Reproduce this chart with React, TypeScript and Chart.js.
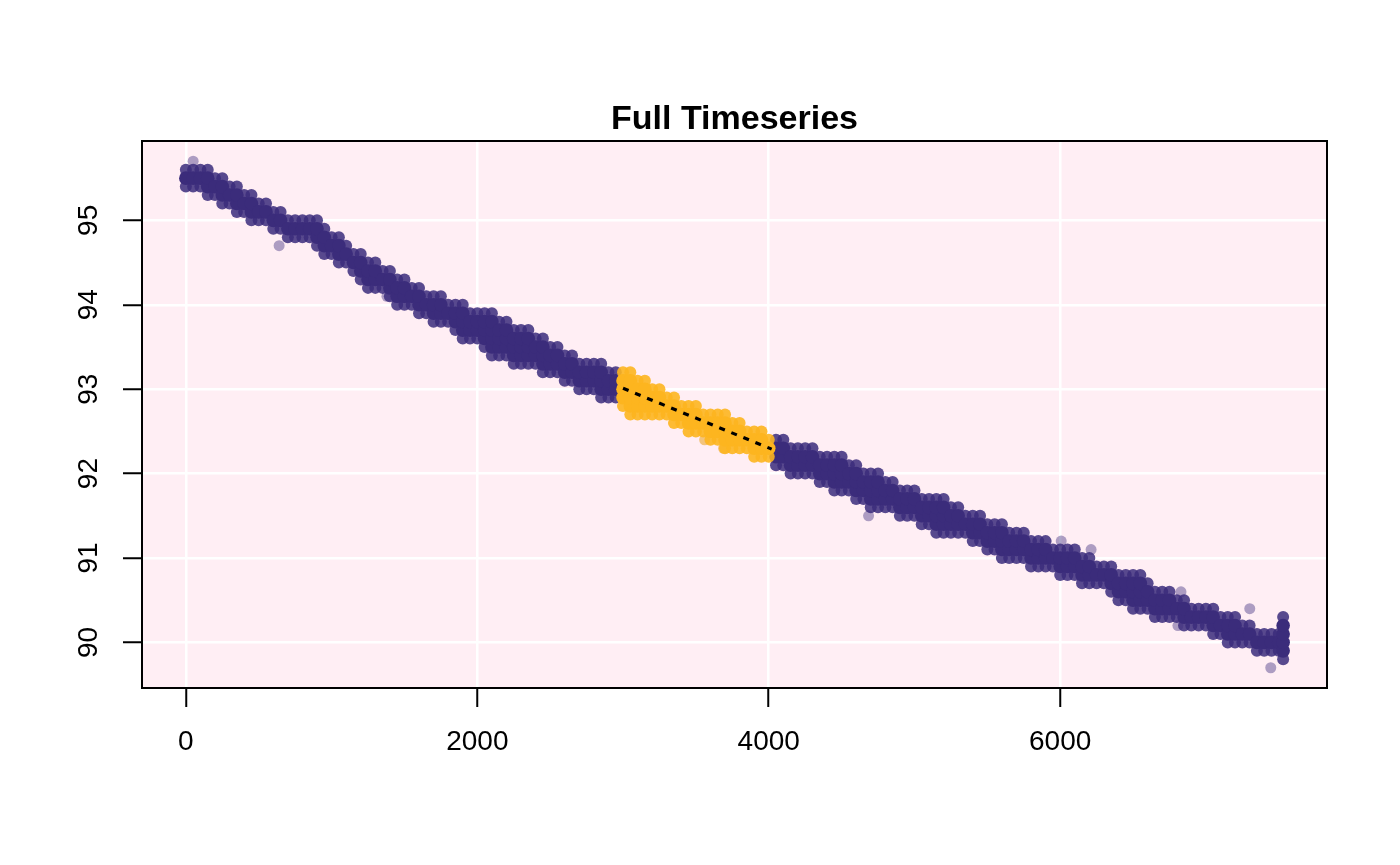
import React, { useEffect, useRef } from 'react';
import { Chart, registerables } from 'chart.js';

Chart.register(...registerables);

// sample positions along the series (time index)
const bandX = [
  0, 50, 100, 150, 200, 250, 300, 350, 400, 450,
  500, 550, 600, 650, 700, 750, 800, 850, 900, 950,
  1000, 1050, 1100, 1150, 1200, 1250, 1300, 1350, 1400, 1450,
  1500, 1550, 1600, 1650, 1700, 1750, 1800, 1850, 1900, 1950,
  2000, 2050, 2100, 2150, 2200, 2250, 2300, 2350, 2400, 2450,
  2500, 2550, 2600, 2650, 2700, 2750, 2800, 2850, 2900, 2950,
  3000, 3050, 3100, 3150, 3200, 3250, 3300, 3350, 3400, 3450,
  3500, 3550, 3600, 3650, 3700, 3750, 3800, 3850, 3900, 3950,
  4000, 4050, 4100, 4150, 4200, 4250, 4300, 4350, 4400, 4450,
  4500, 4550, 4600, 4650, 4700, 4750, 4800, 4850, 4900, 4950,
  5000, 5050, 5100, 5150, 5200, 5250, 5300, 5350, 5400, 5450,
  5500, 5550, 5600, 5650, 5700, 5750, 5800, 5850, 5900, 5950,
  6000, 6050, 6100, 6150, 6200, 6250, 6300, 6350, 6400, 6450,
  6500, 6550, 6600, 6650, 6700, 6750, 6800, 6850, 6900, 6950,
  7000, 7050, 7100, 7150, 7200, 7250, 7300, 7350, 7400, 7450,
  7500, 7530,
];

// highest reading (0.1 steps) seen around each sample position
const bandHigh = [
  95.6, 95.6, 95.6, 95.6, 95.5, 95.5, 95.4, 95.4, 95.3, 95.3,
  95.2, 95.2, 95.1, 95.1, 95.0, 95.0, 95.0, 95.0, 95.0, 94.9,
  94.8, 94.8, 94.7, 94.6, 94.6, 94.5, 94.5, 94.4, 94.4, 94.3,
  94.3, 94.2, 94.2, 94.1, 94.1, 94.1, 94.0, 94.0, 94.0, 93.9,
  93.9, 93.9, 93.9, 93.8, 93.8, 93.7, 93.7, 93.7, 93.6, 93.6,
  93.5, 93.5, 93.4, 93.4, 93.3, 93.3, 93.3, 93.3, 93.2, 93.2,
  93.2, 93.2, 93.1, 93.1, 93.0, 93.0, 92.9, 92.9, 92.8, 92.8,
  92.8, 92.7, 92.7, 92.7, 92.7, 92.6, 92.6, 92.5, 92.5, 92.5,
  92.4, 92.4, 92.4, 92.3, 92.3, 92.3, 92.3, 92.2, 92.2, 92.2,
  92.2, 92.1, 92.1, 92.0, 92.0, 92.0, 91.9, 91.9, 91.8, 91.8,
  91.8, 91.7, 91.7, 91.7, 91.7, 91.6, 91.6, 91.5, 91.5, 91.5,
  91.4, 91.4, 91.4, 91.3, 91.3, 91.3, 91.2, 91.2, 91.2, 91.1,
  91.1, 91.1, 91.1, 91.0, 91.0, 90.9, 90.9, 90.9, 90.8, 90.8,
  90.8, 90.8, 90.7, 90.6, 90.6, 90.6, 90.5, 90.5, 90.4, 90.4,
  90.4, 90.4, 90.3, 90.3, 90.3, 90.2, 90.2, 90.1, 90.1, 90.1,
  90.1, 90.3,
];

// lowest reading (0.1 steps) seen around each sample position
const bandLow = [
  95.4, 95.4, 95.4, 95.3, 95.3, 95.2, 95.2, 95.1, 95.1, 95.0,
  95.0, 95.0, 94.9, 94.9, 94.8, 94.8, 94.8, 94.8, 94.7, 94.6,
  94.6, 94.5, 94.5, 94.4, 94.3, 94.2, 94.2, 94.2, 94.1, 94.0,
  94.0, 94.0, 93.9, 93.9, 93.8, 93.8, 93.8, 93.7, 93.6, 93.6,
  93.6, 93.5, 93.4, 93.4, 93.4, 93.3, 93.3, 93.3, 93.3, 93.2,
  93.2, 93.2, 93.1, 93.1, 93.0, 93.0, 93.0, 92.9, 92.9, 92.9,
  92.8, 92.7, 92.7, 92.7, 92.7, 92.7, 92.7, 92.6, 92.6, 92.5,
  92.5, 92.5, 92.4, 92.4, 92.3, 92.3, 92.3, 92.3, 92.2, 92.2,
  92.2, 92.1, 92.1, 92.0, 92.0, 92.0, 92.0, 91.9, 91.9, 91.8,
  91.8, 91.8, 91.7, 91.7, 91.6, 91.6, 91.6, 91.6, 91.5, 91.5,
  91.5, 91.4, 91.4, 91.3, 91.3, 91.3, 91.3, 91.3, 91.2, 91.2,
  91.1, 91.1, 91.0, 91.0, 91.0, 91.0, 90.9, 90.9, 90.9, 90.9,
  90.8, 90.8, 90.8, 90.7, 90.7, 90.7, 90.7, 90.6, 90.5, 90.5,
  90.4, 90.4, 90.4, 90.3, 90.3, 90.3, 90.3, 90.2, 90.2, 90.2,
  90.2, 90.1, 90.1, 90.0, 90.0, 90.0, 90.0, 89.9, 89.9, 89.9,
  89.9, 89.8,
];

// stray single readings outside the main band
const outlierX = [50, 640, 1380, 2400, 3560, 3690, 4685, 6007, 6212, 6808, 6829, 7301, 7445];
const outlierY = [95.7, 94.7, 94.1, 93.5, 92.4, 92.3, 91.5, 91.2, 91.1, 90.2, 90.6, 90.4, 89.7];

// highlighted window and its fitted trend
const highlightFrom = 3000;
const highlightTo = 4000;
const fitX = [3000, 4020];
const fitY = [93.01, 92.29];

const xTicks = [0, 2000, 4000, 6000];
const yTicks = [90, 91, 92, 93, 94, 95];

const PURPLE = '#3B2C7B';
const PURPLE_EDGE = 'rgba(59, 44, 123, 0.85)';
const PURPLE_FAINT = 'rgba(59, 44, 123, 0.42)';
const ORANGE = '#FDB51F';
const ORANGE_EDGE = 'rgba(253, 181, 31, 0.9)';
const ORANGE_FAINT = 'rgba(235, 168, 45, 0.6)';
const FONT = '"Liberation Sans", Arial, Helvetica, sans-serif';

type Pt = { x: number; y: number };

const App: React.FC = () => {
  const canvasRef = useRef<HTMLCanvasElement | null>(null);

  useEffect(() => {
    if (!canvasRef.current) return;
    const ctx = canvasRef.current.getContext('2d');
    if (!ctx) return;

    const purpleCore: Pt[] = [];
    const purpleEdge: Pt[] = [];
    const orangeCore: Pt[] = [];
    const orangeEdge: Pt[] = [];
    bandX.forEach((x, i) => {
      const lo = Math.round(bandLow[i] * 10);
      const hi = Math.round(bandHigh[i] * 10);
      const hl = x >= highlightFrom && x <= highlightTo;
      for (let t = lo; t <= hi; t++) {
        const p = { x, y: t / 10 };
        const edge = t === lo || t === hi;
        if (hl) (edge ? orangeEdge : orangeCore).push(p);
        else (edge ? purpleEdge : purpleCore).push(p);
      }
    });
    const purpleOut: Pt[] = [];
    const orangeOut: Pt[] = [];
    outlierX.forEach((x, i) => {
      const p = { x, y: outlierY[i] };
      if (x >= highlightFrom && x <= highlightTo) orangeOut.push(p);
      else purpleOut.push(p);
    });

    const pointDs = (data: Pt[], color: string, r: number, order: number) => ({
      type: 'scatter' as const,
      data,
      backgroundColor: color,
      borderWidth: 0,
      pointRadius: r,
      pointHoverRadius: r,
      order,
    });

    const framePlugin = {
      id: 'frame',
      beforeDraw(chart: Chart) {
        const { ctx: c, chartArea: a } = chart;
        c.save();
        c.fillStyle = '#ffffff';
        c.fillRect(0, 0, chart.width, chart.height);
        c.fillStyle = '#FFEEF4';
        c.fillRect(a.left, a.top, a.right - a.left, a.bottom - a.top);
        c.restore();
      },
      afterDraw(chart: Chart) {
        const { ctx: c, chartArea: a } = chart;
        c.save();
        c.strokeStyle = '#000000';
        c.lineWidth = 2;
        c.strokeRect(a.left, a.top, a.right - a.left, a.bottom - a.top);
        c.fillStyle = '#000000';
        c.font = `bold 34px ${FONT}`;
        c.textAlign = 'center';
        c.textBaseline = 'middle';
        c.fillText('Full Timeseries', (a.left + a.right) / 2, 120);
        const ys = chart.scales.y;
        c.font = `28px ${FONT}`;
        yTicks.forEach((v) => {
          c.save();
          c.translate(89, ys.getPixelForValue(v));
          c.rotate(-Math.PI / 2);
          c.fillText(String(v), 0, 0);
          c.restore();
        });
        c.restore();
      },
    };

    const chart = new Chart(ctx, {
      type: 'scatter',
      data: {
        datasets: [
          {
            type: 'line' as const,
            data: fitX.map((x, i) => ({ x, y: fitY[i] })),
            borderColor: '#000000',
            borderWidth: 3.2,
            borderDash: [6, 7],
            pointRadius: 0,
            fill: false,
            order: 0,
          },
          pointDs(orangeCore, ORANGE, 6.8, 1),
          pointDs(orangeEdge, ORANGE_EDGE, 6, 2),
          pointDs(orangeOut, ORANGE_FAINT, 5.5, 3),
          pointDs(purpleCore, PURPLE, 6.8, 4),
          pointDs(purpleEdge, PURPLE_EDGE, 6, 5),
          pointDs(purpleOut, PURPLE_FAINT, 5.5, 6),
        ] as any,
      },
      options: {
        responsive: false,
        animation: false,
        events: [],
        layout: { padding: { top: 141, right: 73, bottom: 0, left: 0 } },
        plugins: {
          legend: { display: false },
          tooltip: { enabled: false },
          title: { display: false },
        },
        scales: {
          x: {
            type: 'linear',
            min: -301,
            max: 7831,
            afterBuildTicks: (scale: any) => {
              scale.ticks = xTicks.map((value) => ({ value }));
            },
            afterFit: (scale: any) => {
              scale.height = 177;
            },
            border: { display: false },
            grid: {
              color: '#ffffff',
              lineWidth: 2.5,
              tickColor: '#000000',
              tickWidth: 2,
              tickLength: 19,
            },
            ticks: {
              color: '#000000',
              font: { family: FONT, size: 28 },
              padding: 18,
              maxRotation: 0,
              callback: (v: any) => String(v),
            },
          },
          y: {
            type: 'linear',
            min: 89.46,
            max: 95.94,
            afterBuildTicks: (scale: any) => {
              scale.ticks = yTicks.map((value) => ({ value }));
            },
            afterFit: (scale: any) => {
              scale.width = 142;
            },
            border: { display: false },
            grid: {
              color: '#ffffff',
              lineWidth: 2.5,
              tickColor: '#000000',
              tickWidth: 2,
              tickLength: 19,
            },
            ticks: { display: false },
          },
        },
      },
      plugins: [framePlugin],
    });

    return () => {
      chart.destroy();
    };
  }, []);

  return (
    <div style={{ position: 'absolute', left: 0, top: 0, width: 1400, height: 865, background: '#fff' }}>
      <canvas ref={canvasRef} width={1400} height={865} />
    </div>
  );
};

export default App;
